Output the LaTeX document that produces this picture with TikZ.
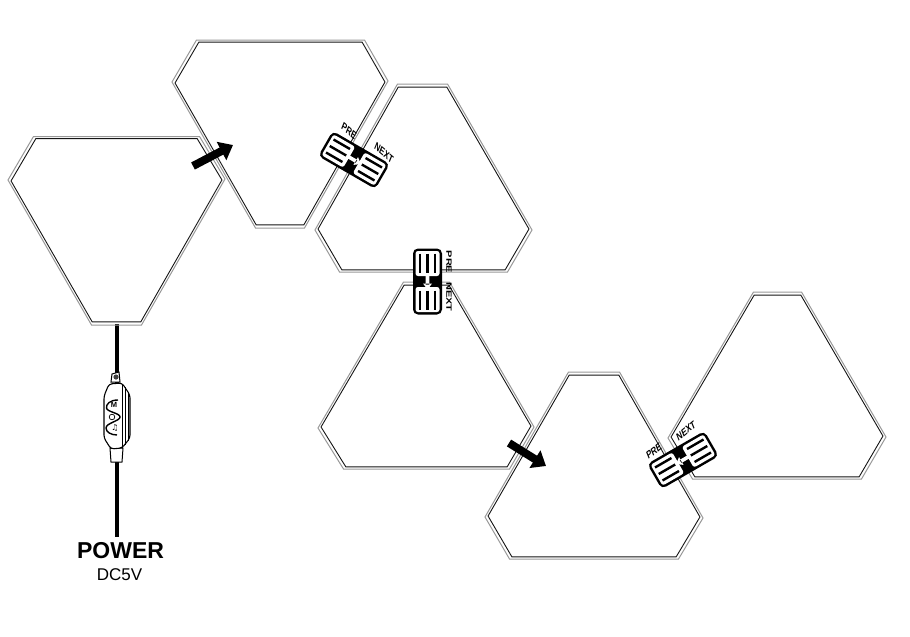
\documentclass[tikz,border=0pt]{standalone}
\usepackage{fontspec}
\setmainfont{Liberation Sans}
\usetikzlibrary{calc,arrows.meta}
\definecolor{pout}{gray}{0.6}
\definecolor{pin}{gray}{0.08}
\newcommand{\panelshape}[7]{%
  \draw[panelouter] #1 -- #2 -- #3 -- #4 -- #5 -- #6 -- cycle;
  \begin{scope}[shift={#7},scale=0.972,shift={($(0,0)-#7$)}]
  \draw[panelinner] #1 -- #2 -- #3 -- #4 -- #5 -- #6 -- cycle;
  \end{scope}}
\newcommand{\connector}[1]{%
  \begin{scope}[#1]
   \fill[black,rounded corners=5pt] (-14.5,-33) rectangle (14.5,33);
   \fill[white,rounded corners=2.5pt] (-12,-30.5) rectangle (12,-5.5);
   \fill[white,rounded corners=2.5pt] (-12,5.5) rectangle (12,30.5);
   \foreach \q in {-7.5,0,7.5}{
     \draw[line width=2.4pt] (\q,-28) -- (\q,-9);
     \draw[line width=2.4pt] (\q,9) -- (\q,28);}
   \fill[white] (-1.8,-6) rectangle (1.8,3) (-4.5,2) -- (4.5,2) -- (0,8) -- cycle;
  \end{scope}}
\tikzset{
 panelouter/.style={draw=pout,line width=1pt,line join=miter},
 panelinner/.style={draw=pin,line width=0.9pt,line join=miter},
 flowarrow/.style={line width=8pt,-{Triangle[length=13pt,width=20pt]}},
 lbl/.style={font=\bfseries\fontsize{11}{11}\selectfont,inner sep=0pt,text=black,xscale=0.7}
}
\begin{document}
\begin{tikzpicture}[x=1pt,y=-1pt]
\useasboundingbox (0,0) rectangle (910,637);
\fill[white] (0,0) rectangle (910,637);
% cable
\coordinate (capTop) at (117,324);
\coordinate (capBot) at (117,537);
\draw[line width=3.2pt] (capTop) -- (capBot);
% panels
\panelshape{(33.5,136.5)}{(199.5,136.5)}{(225,179)}{(141.5,325)}{(91.5,325)}{(8,180)}{(116.5,213)}
\panelshape{(196.5,40)}{(364.5,40)}{(388,81)}{(304.5,228)}{(255.5,228)}{(172,82)}{(280,117)}
\panelshape{(397.5,84)}{(447.5,84)}{(532,230)}{(507.5,272)}{(339.5,272)}{(315,230)}{(423.5,195)}
\panelshape{(403.5,282)}{(449.5,282)}{(534,427)}{(509.5,469)}{(343.5,469)}{(318,428)}{(426,392)}
\panelshape{(753.5,292)}{(801.5,292)}{(886,437)}{(861.5,479)}{(692.5,479)}{(668,438)}{(777,402)}
\panelshape{(568.5,372)}{(619.5,372)}{(703,518)}{(678.5,559)}{(509.5,559)}{(485,517)}{(594,482)}
% flow arrows
\coordinate (a1s) at (193,166); \coordinate (a1e) at (233,145);
\coordinate (a2s) at (509,443); \coordinate (a2e) at (546,466);
\draw[flowarrow] (a1s) -- (a1e);
\draw[flowarrow] (a2s) -- (a2e);
% connectors
\connector{shift={(354,160)},rotate=60}
\connector{shift={(427.5,281.5)}}
\connector{shift={(683,460)},rotate=-60}
\node[lbl,rotate=-30] (pre1) at (349,131) {PRE};
\node[lbl,rotate=-30] (next1) at (384,153) {NEXT};
\node[lbl,rotate=-90] (pre2) at (449,262) {PRE};
\node[lbl,rotate=-90] (next2) at (449,297) {NEXT};
\node[lbl,rotate=30] (pre3) at (654,451) {PRE};
\node[lbl,rotate=30] (next3) at (686,431) {NEXT};
% controller
\begin{scope}[shift={(117,420)}]
 \fill[white,draw=black,line width=1pt] (-5,-46) -- (2,-48) -- (3,-38) -- (-6,-38) -- cycle;
 \fill[black!75] (-1,-43) circle (2.6);
 \fill[white,draw=black,line width=1pt] (-7,28) -- (6,28) -- (5,42) -- (-6,42) -- cycle;
 \draw[fill=white,line width=1.1pt,rounded corners=3pt] (-13,-24) -- (-8,-36) -- (5,-37) -- (13,-25) -- (13,18) -- (5,28) -- (-6,29) -- (-13,18) -- cycle;
 \draw[line width=0.7pt] (5,-36) -- (5,28) (8,-33) -- (8,25) (11,-28) -- (11,21);
 \draw[line width=1.4pt] (1,-20) .. controls (-7,-20) and (-11,-16) .. (-10.5,-12) .. controls (-10,-8) and (3,-7) .. (3,-3) .. controls (3,1) and (-11,3) .. (-11,8) .. controls (-11,12) and (-6,15) .. (0,15);
 \node[font=\bfseries\fontsize{7.5}{7.5}\selectfont,inner sep=0pt] (mkey) at (-3,-15.5) {M};
 \draw[line width=0.7pt] (-5,-3) circle (2.8);
 \node[font=\fontsize{8}{8}\selectfont,inner sep=0pt] (nkey) at (-2,8) {\fontspec{DejaVu Sans}♫};
\end{scope}
% labels
\node[font=\bfseries\fontsize{23}{25}\selectfont,inner sep=0pt] (power) at (120.5,551) {POWER};
\node[font=\fontsize{17}{19}\selectfont,inner sep=0pt] (dc) at (119.5,575) {DC5V};
\end{tikzpicture}
\end{document}
